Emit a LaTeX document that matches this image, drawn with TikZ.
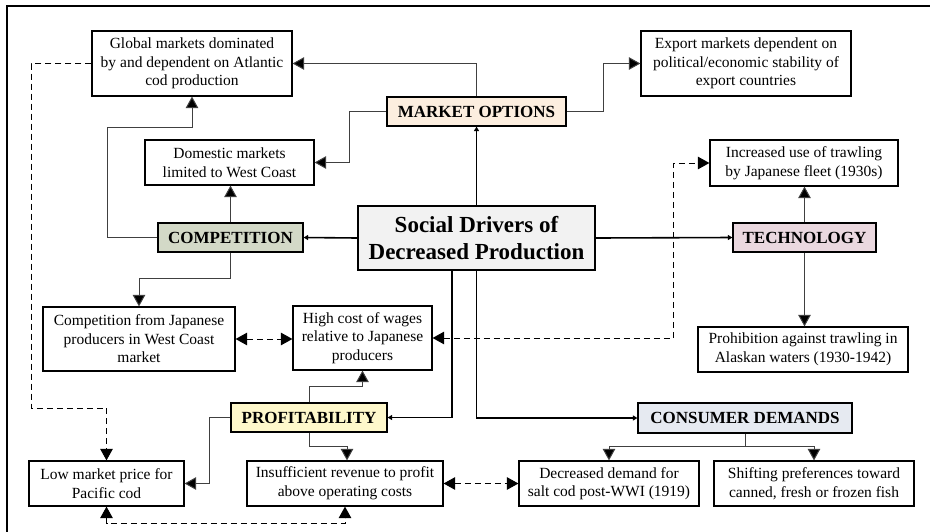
\documentclass[tikz,border=0pt]{standalone}
\usepackage{fontspec}
\setmainfont{Liberation Serif}
\usetikzlibrary{arrows.meta}
\definecolor{mktfill}{HTML}{FCEEDF}
\definecolor{compfill}{HTML}{D3D9C7}
\definecolor{techfill}{HTML}{EAD8DF}
\definecolor{consfill}{HTML}{E6EAF1}
\definecolor{proffill}{HTML}{FEF8CB}
\definecolor{cenfill}{HTML}{F2F2F2}
\tikzset{
  box/.style={draw=black, line width=1.2pt, fill=white, align=center, inner sep=0pt,
    font=\fontsize{15.5}{18.6}\selectfont},
  driver/.style={draw=black, line width=1.2pt, align=center, inner sep=0pt,
    font=\fontsize{17}{20}\selectfont\bfseries},
  centre/.style={draw=black, line width=1.3pt, fill=cenfill, align=center, inner sep=0pt,
    font=\fontsize{23}{27}\selectfont\bfseries},
  mainlink/.style={line width=1.6pt, draw=black, -{Triangle[length=4.5pt,width=5pt]}},
  link/.style={line width=1pt, draw=black!75, -{Triangle[length=11.5pt,width=12.5pt,fill=black]}},
  dlink/.style={line width=1pt, draw=black, dash pattern=on 6pt off 4pt,
    {Triangle[length=11.5pt,width=12.5pt]}-{Triangle[length=11.5pt,width=12.5pt]}},
  dlinkone/.style={line width=1pt, draw=black, dash pattern=on 6pt off 4pt,
    -{Triangle[length=11.5pt,width=12.5pt]}},
}
\begin{document}
\begin{tikzpicture}[x=1pt, y=-1pt]
\useasboundingbox (0,0) rectangle (930,531);
% outer frame
\draw[line width=1.5pt] (7,545) -- (7,6) -- (945,6);

% centre
\node[centre, minimum width=237pt, minimum height=64pt] (cen) at (476.5,238)
  {Social Drivers of\\Decreased Production};

% drivers
\node[driver, fill=mktfill, minimum width=179pt, minimum height=29pt] (mkt) at (476.5,111.5) {MARKET OPTIONS};
\node[driver, fill=compfill, minimum width=145pt, minimum height=29pt] (comp) at (230.5,237.5) {COMPETITION};
\node[driver, fill=techfill, minimum width=143pt, minimum height=29pt] (tech) at (804.5,237.5) {TECHNOLOGY};
\node[driver, fill=consfill, minimum width=214pt, minimum height=30pt] (cons) at (745,418) {CONSUMER DEMANDS};
\node[driver, fill=proffill, minimum width=156pt, minimum height=29pt] (prof) at (309,417.5) {PROFITABILITY};

% effects
\node[box, minimum width=200pt, minimum height=65pt] (glob) at (192,63.5)
  {Global markets dominated\\by and dependent on Atlantic\\cod production};
\node[box, minimum width=210pt, minimum height=65pt] (exp) at (746,63.5)
  {Export markets dependent on\\political/economic stability of\\export countries};
\node[box, minimum width=169pt, minimum height=45pt] (dom) at (229.5,162.5)
  {Domestic markets\\limited to West Coast};
\node[box, minimum width=188pt, minimum height=46pt] (inc) at (804,163)
  {Increased use of trawling\\by Japanese fleet (1930s)};
\node[box, minimum width=210pt, minimum height=45pt] (proh) at (803,349.5)
  {Prohibition against trawling in\\Alaskan waters (1930-1942)};
\node[box, minimum width=192pt, minimum height=64pt] (cjap) at (139,339)
  {Competition from Japanese\\producers in West Coast\\market};
\node[box, minimum width=139pt, minimum height=64pt] (wage) at (362.5,338)
  {High cost of wages\\relative to Japanese\\producers};
\node[box, minimum width=155pt, minimum height=45pt] (low) at (106.5,483.5)
  {Low market price for\\Pacific cod};
\node[box, minimum width=196pt, minimum height=45pt] (ins) at (345,483.5)
  {Insufficient revenue to profit\\above operating costs};
\node[box, minimum width=180pt, minimum height=45pt] (dec) at (609,483.5)
  {Decreased demand for\\salt cod post-WWI (1919)};
\node[box, minimum width=200pt, minimum height=45pt] (shift) at (814,483.5)
  {Shifting preferences toward\\canned, fresh or frozen fish};

% centre to drivers
\draw[mainlink] (cen.north) -- (mkt.south);
\draw[mainlink] (cen.west) -- (comp.east);
\draw[mainlink] (cen.east) -- (tech.west);
\draw[mainlink] ([xshift=-24.5pt]cen.south) |- (prof.east);
\draw[mainlink] (cen.south) |- (cons.west);

% market options
\draw[link] (mkt.north) |- (glob.east);
\draw[link] (mkt.west) -- ++(-37,0) |- (dom.east);
\draw[link] (mkt.east) -- ++(37,0) |- (exp.west);

% competition
\draw[link] (comp.north) -- (comp.north |- dom.south);
\draw[link] (comp.west) -- ++(-50,0) -- ++(0,-110.5) -| (glob.south);
\draw[link] (comp.south) -- ++(0,26) -| (cjap.north);

% technology
\draw[link] (tech.north) -- (tech.north |- inc.south);
\draw[link] (tech.south) -- (tech.south |- proh.north);

% consumer demands
\draw[link] (cons.south) -- ++(0,13) -| (dec.north);
\draw[link] (cons.south) -- ++(0,13) -| (shift.north);

% profitability
\draw[link] (prof.north) -- ++(0,-16) -| (wage.south);
\draw[link] (prof.west) -- ++(-21,0) |- (low.east);
\draw[link] (prof.south) -- ++(0,14) -| ([xshift=2pt]ins.north);

% dashed relations
\draw[dlinkone] (glob.west) -- ++(-60,0) -- ++(0,344.5) -| (low.north);
\draw[dlink] (cjap.east) -- (cjap.east -| wage.west);
\draw[dlink] (wage.east) -- ++(241,0) |- (inc.west);
\draw[dlink] (low.south) -- ++(0,17) -| (ins.south);
\draw[dlink] (ins.east) -- (dec.west);
\end{tikzpicture}
\end{document}
